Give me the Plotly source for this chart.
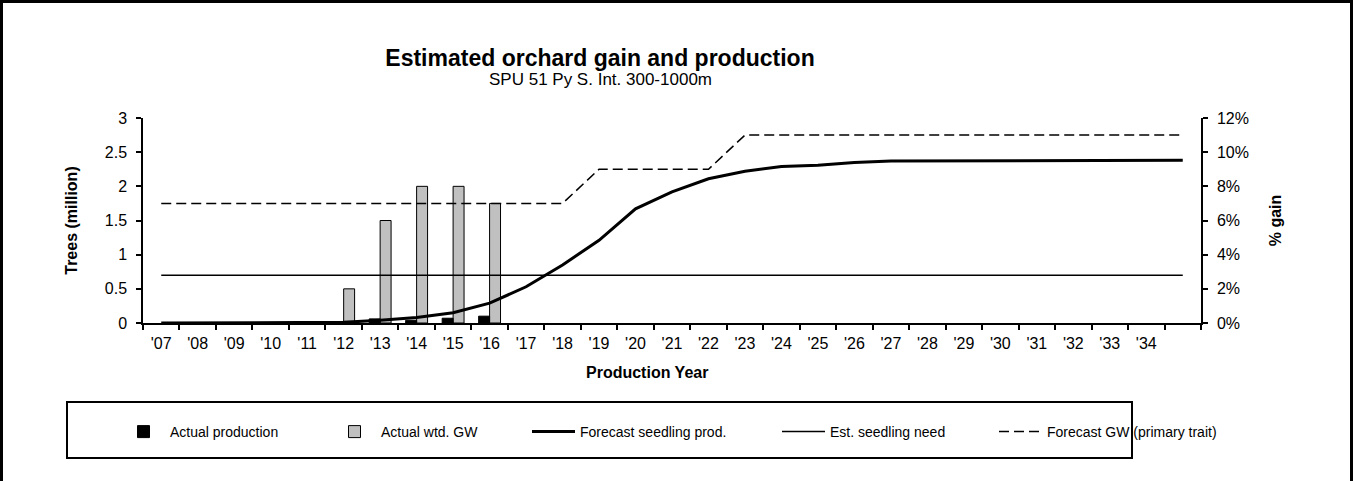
import plotly.graph_objects as go

# ---------------- data ----------------
years = list(range(2007, 2036))
year_labels = ["'07", "'08", "'09", "'10", "'11", "'12", "'13", "'14", "'15", "'16",
               "'17", "'18", "'19", "'20", "'21", "'22", "'23", "'24", "'25", "'26",
               "'27", "'28", "'29", "'30", "'31", "'32", "'33", "'34", ""]

# million trees
actual_production = [None, None, None, None, None, None, 0.06, 0.04, 0.07, 0.10,
                     None, None, None, None, None, None, None, None, None, None,
                     None, None, None, None, None, None, None, None, None]
# % gain
actual_wtd_gw = [None, None, None, None, None, 2, 6, 8, 8, 7,
                 None, None, None, None, None, None, None, None, None, None,
                 None, None, None, None, None, None, None, None, None]
# million trees
forecast_seedling_prod = [0, 0, 0, 0, 0, 0.01, 0.04, 0.08, 0.15, 0.29,
                          0.53, 0.85, 1.21, 1.67, 1.92, 2.11, 2.22, 2.29, 2.31, 2.35,
                          2.37, 2.37, 2.38, 2.38, 2.38, 2.38, 2.38, 2.38, 2.38]
# million trees
est_seedling_need = [0.7, 0.7, 0.7, 0.7, 0.7, 0.7, 0.7, 0.7, 0.7, 0.7,
                     0.7, 0.7, 0.7, 0.7, 0.7, 0.7, 0.7, 0.7, 0.7, 0.7,
                     0.7, 0.7, 0.7, 0.7, 0.7, 0.7, 0.7, 0.7, 0.7]
# % gain
forecast_gw = [7, 7, 7, 7, 7, 7, 7, 7, 7, 7,
               7, 7, 9, 9, 9, 9, 11, 11, 11, 11,
               11, 11, 11, 11, 11, 11, 11, 11, 11]

left_ticks = [0, 0.5, 1, 1.5, 2, 2.5, 3]
left_ticktext = ["0", "0.5", "1", "1.5", "2", "2.5", "3"]
right_ticks = [0, 2, 4, 6, 8, 10, 12]
right_ticktext = ["0%", "2%", "4%", "6%", "8%", "10%", "12%"]

chart_title = "Estimated orchard gain and production"
chart_subtitle = "SPU 51 Py S. Int. 300-1000m"

# ---------------- layout helpers ----------------
W, H = 1354, 481
L, R, T, B = 143, 1201, 118, 323


def px_x(p):
    return (p - L) / (R - L)


def px_y(p):
    return (B - p) / (B - T)


FONT = "Liberation Sans, Arial, sans-serif"

fig = go.Figure()

# % axis (base subplot, right side)
fig.add_trace(go.Bar(
    x=years, y=actual_wtd_gw, name="Actual wtd. GW",
    marker=dict(color="#c0c0c0", line=dict(color="black", width=1)),
    width=0.3, offset=0, yaxis="y", legend="legend2",
))
fig.add_trace(go.Scatter(
    x=years, y=forecast_gw, name="Forecast GW (primary trait)", mode="lines",
    line=dict(color="black", width=1.5, dash="10px,5px"),
    yaxis="y", legend="legend5",
))
# trees axis (overlay, left side)
fig.add_trace(go.Bar(
    x=years, y=actual_production, name="Actual production",
    marker=dict(color="black", line=dict(color="black", width=1)),
    width=0.3, offset=-0.3, yaxis="y2", legend="legend",
))
fig.add_trace(go.Scatter(
    x=years, y=forecast_seedling_prod, name="Forecast seedling prod.", mode="lines",
    line=dict(color="black", width=3), yaxis="y2", legend="legend3",
))
fig.add_trace(go.Scatter(
    x=years, y=est_seedling_need, name="Est. seedling need", mode="lines",
    line=dict(color="black", width=1.5), yaxis="y2", legend="legend4",
))

tickfont = dict(family=FONT, size=16, color="black")
titlefont = dict(family=FONT, size=16, color="black")

leg_common = dict(orientation="h", yanchor="middle", xanchor="left",
                  bgcolor="rgba(0,0,0,0)", borderwidth=0, itemwidth=43,
                  font=dict(family=FONT, size=14, color="black"),
                  y=px_y(432))

legend_text_x = [170, 381, 580, 830, 1047]

fig.update_layout(
    width=W, height=H,
    margin=dict(l=L, r=W - R, t=T, b=H - B, pad=0),
    paper_bgcolor="white", plot_bgcolor="white",
    barmode="overlay",
    showlegend=True,
    title=dict(
        text="<b>" + chart_title + "</b>",
        font=dict(family=FONT, size=23, color="black"),
        x=600 / W, xanchor="center", xref="container",
        y=1 - 58 / H, yanchor="middle", yref="container",
    ),
    annotations=[
        dict(text=chart_subtitle, xref="paper", yref="paper",
             x=px_x(600), y=px_y(79), xanchor="center", yanchor="middle",
             showarrow=False, font=dict(family=FONT, size=17, color="black")),
        dict(text="<b>Production Year</b>", xref="paper", yref="paper",
             x=px_x(647), y=px_y(372), xanchor="center", yanchor="middle",
             showarrow=False, font=titlefont),
    ],
    xaxis=dict(
        range=[2006.5, 2035.5], tickmode="array", tickvals=years, ticktext=year_labels,
        ticks="", showgrid=False, zeroline=False,
        showline=True, linecolor="black", linewidth=1.5,
        tickfont=tickfont, ticklabelstandoff=5,
        minor=dict(tickmode="linear", tick0=2006.5, dtick=1, ticks="outside",
                   ticklen=5, tickwidth=1.5, tickcolor="black", showgrid=False),
    ),
    xaxis2=dict(
        overlaying="x", anchor="y", side="bottom",
        range=[2006.5, 2035.5], showticklabels=False, showgrid=False, zeroline=False,
        ticks="inside", tickmode="linear", tick0=2006.5, dtick=1,
        ticklen=5, tickwidth=1.5, tickcolor="black",
    ),
    yaxis=dict(
        side="right", range=[0, 12], tickmode="array", tickvals=right_ticks,
        ticktext=right_ticktext,
        ticks="outside", ticklen=5, tickwidth=1.5, tickcolor="black",
        showgrid=False, zeroline=False, showline=True, linecolor="black", linewidth=1.5,
        tickfont=tickfont, ticklabelstandoff=6,
        title=dict(text="<b>% gain</b>", font=titlefont, standoff=22),
    ),
    yaxis2=dict(
        side="left", overlaying="y", range=[0, 3], tickmode="array",
        tickvals=left_ticks, ticktext=left_ticktext,
        ticks="outside", ticklen=5, tickwidth=1.5, tickcolor="black",
        showgrid=False, zeroline=False, showline=True, linecolor="black", linewidth=1.5,
        tickfont=tickfont, ticklabelstandoff=6,
        title=dict(text="<b>Trees (million)</b>", font=titlefont, standoff=23),
    ),
    yaxis3=dict(
        side="left", overlaying="y", anchor="x", range=[0, 3], tickmode="array",
        tickvals=left_ticks, ticks="inside", ticklen=5, tickwidth=1.5, tickcolor="black",
        showticklabels=False, showgrid=False, zeroline=False,
    ),
    yaxis4=dict(
        side="right", overlaying="y", anchor="x", range=[0, 12], tickmode="array",
        tickvals=right_ticks, ticks="inside", ticklen=5, tickwidth=1.5, tickcolor="black",
        showticklabels=False, showgrid=False, zeroline=False,
    ),
    legend=dict(leg_common, x=px_x(legend_text_x[0] - 53)),
    legend2=dict(leg_common, x=px_x(legend_text_x[1] - 53)),
    legend3=dict(leg_common, x=px_x(legend_text_x[2] - 53)),
    legend4=dict(leg_common, x=px_x(legend_text_x[3] - 53)),
    legend5=dict(leg_common, x=px_x(legend_text_x[4] - 53)),
    shapes=[
        # outer chart frame
        dict(type="rect", xref="paper", yref="paper",
             x0=px_x(1.5), x1=px_x(1351.5), y0=px_y(540), y1=px_y(1.5),
             line=dict(color="black", width=3), fillcolor="rgba(0,0,0,0)", layer="above"),
        # legend frame
        dict(type="rect", xref="paper", yref="paper",
             x0=px_x(67), x1=px_x(1132), y0=px_y(458), y1=px_y(402),
             line=dict(color="black", width=2), fillcolor="rgba(0,0,0,0)", layer="above"),
    ],
)

fig.write_html("out.html", config={"displayModeBar": False},
               post_script="document.body.style.margin='0px';")
